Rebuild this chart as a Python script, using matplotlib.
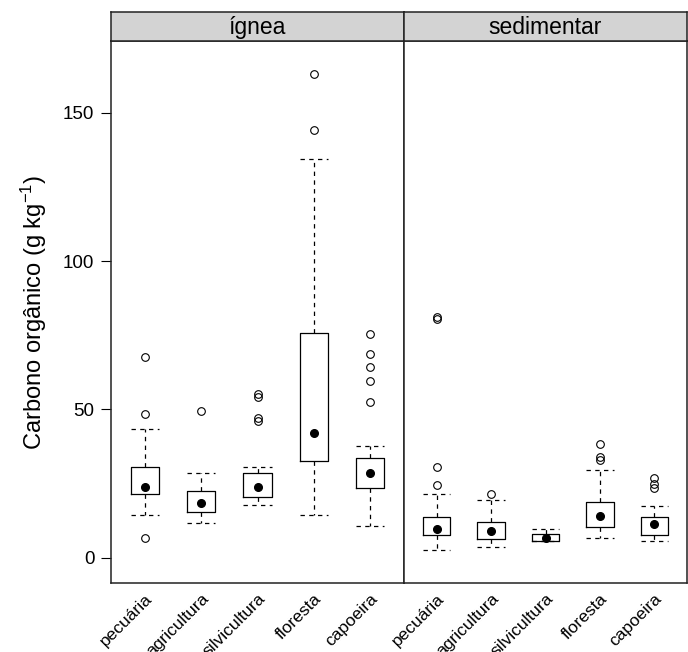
import matplotlib
matplotlib.use("Agg")
import matplotlib.pyplot as plt

plt.rcParams['font.family'] = ['Liberation Sans', 'DejaVu Sans']
plt.rcParams['mathtext.default'] = 'regular'

usos = ['pecuária', 'agricultura', 'silvicultura', 'floresta', 'capoeira']
rochas = ['ígnea', 'sedimentar']

# lower whisker, Q1, median, Q3, upper whisker, outliers
whislo = {'ígnea': [14.5, 11.5, 17.6, 14.5, 10.5],
          'sedimentar': [2.6, 3.5, 5.5, 6.5, 5.5]}
q1 = {'ígnea': [21.5, 15.5, 20.4, 32.4, 23.4],
      'sedimentar': [7.5, 6.4, 5.5, 10.4, 7.5]}
med = {'ígnea': [23.9, 18.5, 23.9, 42.1, 28.6],
       'sedimentar': [9.7, 8.8, 6.7, 14.1, 11.4]}
q3 = {'ígnea': [30.5, 22.4, 28.5, 75.8, 33.4],
      'sedimentar': [13.5, 12.0, 8.0, 18.6, 13.5]}
whishi = {'ígnea': [43.5, 28.5, 30.5, 134.5, 37.5],
          'sedimentar': [21.5, 19.5, 9.6, 29.5, 17.5]}
outliers = {'ígnea': [[67.5, 48.4, 6.5], [49.4], [55.0, 54.0, 47.0, 46.0],
                      [163.0, 144.3], [75.3, 68.5, 64.4, 59.5, 52.5]],
            'sedimentar': [[81.2, 80.3, 30.5, 24.5], [21.5], [],
                           [38.4, 33.9, 32.8], [26.8, 24.9, 23.4]]}

fig = plt.figure(figsize=(6.88, 6.52), dpi=100)
W, H = 688.0, 652.0
panels = [(111, 404), (404, 687)]
top, bottom, strip_top = 41, 583, 12

dash = (0, (3.5, 3.5))
for i, rocha in enumerate(rochas):
    x0, x1 = panels[i]
    ax = fig.add_axes([x0 / W, (H - bottom) / H, (x1 - x0) / W, (bottom - top) / H])
    stats = []
    for j in range(len(usos)):
        stats.append(dict(med=med[rocha][j], q1=q1[rocha][j], q3=q3[rocha][j],
                          whislo=whislo[rocha][j], whishi=whishi[rocha][j],
                          fliers=outliers[rocha][j]))
    pos = list(range(1, len(usos) + 1))
    ax.bxp(stats, positions=pos, widths=0.5, showcaps=True,
           boxprops=dict(color='black', linewidth=0.9),
           whiskerprops=dict(color='black', linewidth=0.9, linestyle=dash),
           capprops=dict(color='black', linewidth=0.9, linestyle=dash),
           medianprops=dict(linewidth=0),
           flierprops=dict(marker='o', markersize=5.5, markerfacecolor='none',
                           markeredgecolor='black', markeredgewidth=0.8),
           capwidths=0.5)
    ax.plot(pos, med[rocha], 'o', color='black', markersize=5.5, zorder=5)
    ax.set_xlim(0.4, 5.6)
    ax.set_ylim(-8.6, 174.2)
    ax.set_xticks(pos)
    ax.set_xticklabels(usos, rotation=45, ha='right', va='top',
                       rotation_mode='anchor', fontsize=12.5)
    ax.tick_params(axis='x', length=0, pad=6)
    for s in ax.spines.values():
        s.set_linewidth(1.1)
        s.set_color('#222222')
    if i == 0:
        ax.set_yticks([0, 50, 100, 150])
        ax.tick_params(axis='y', length=7, width=0.8, labelsize=13.5, pad=5)
        ax.set_ylabel('Carbono orgânico (g kg$^{-1}$)', fontsize=17, labelpad=10)
    else:
        ax.set_yticks([])
    # strip
    sax = fig.add_axes([x0 / W, (H - top) / H, (x1 - x0) / W, (top - strip_top) / H])
    sax.set_xticks([])
    sax.set_yticks([])
    sax.set_facecolor('#d3d3d3')
    for s in sax.spines.values():
        s.set_linewidth(1.1)
        s.set_color('#222222')
    sax.text(0.5, 0.45, rocha, ha='center', va='center', fontsize=16.5,
             transform=sax.transAxes)

fig.savefig('out.png', dpi=100)
